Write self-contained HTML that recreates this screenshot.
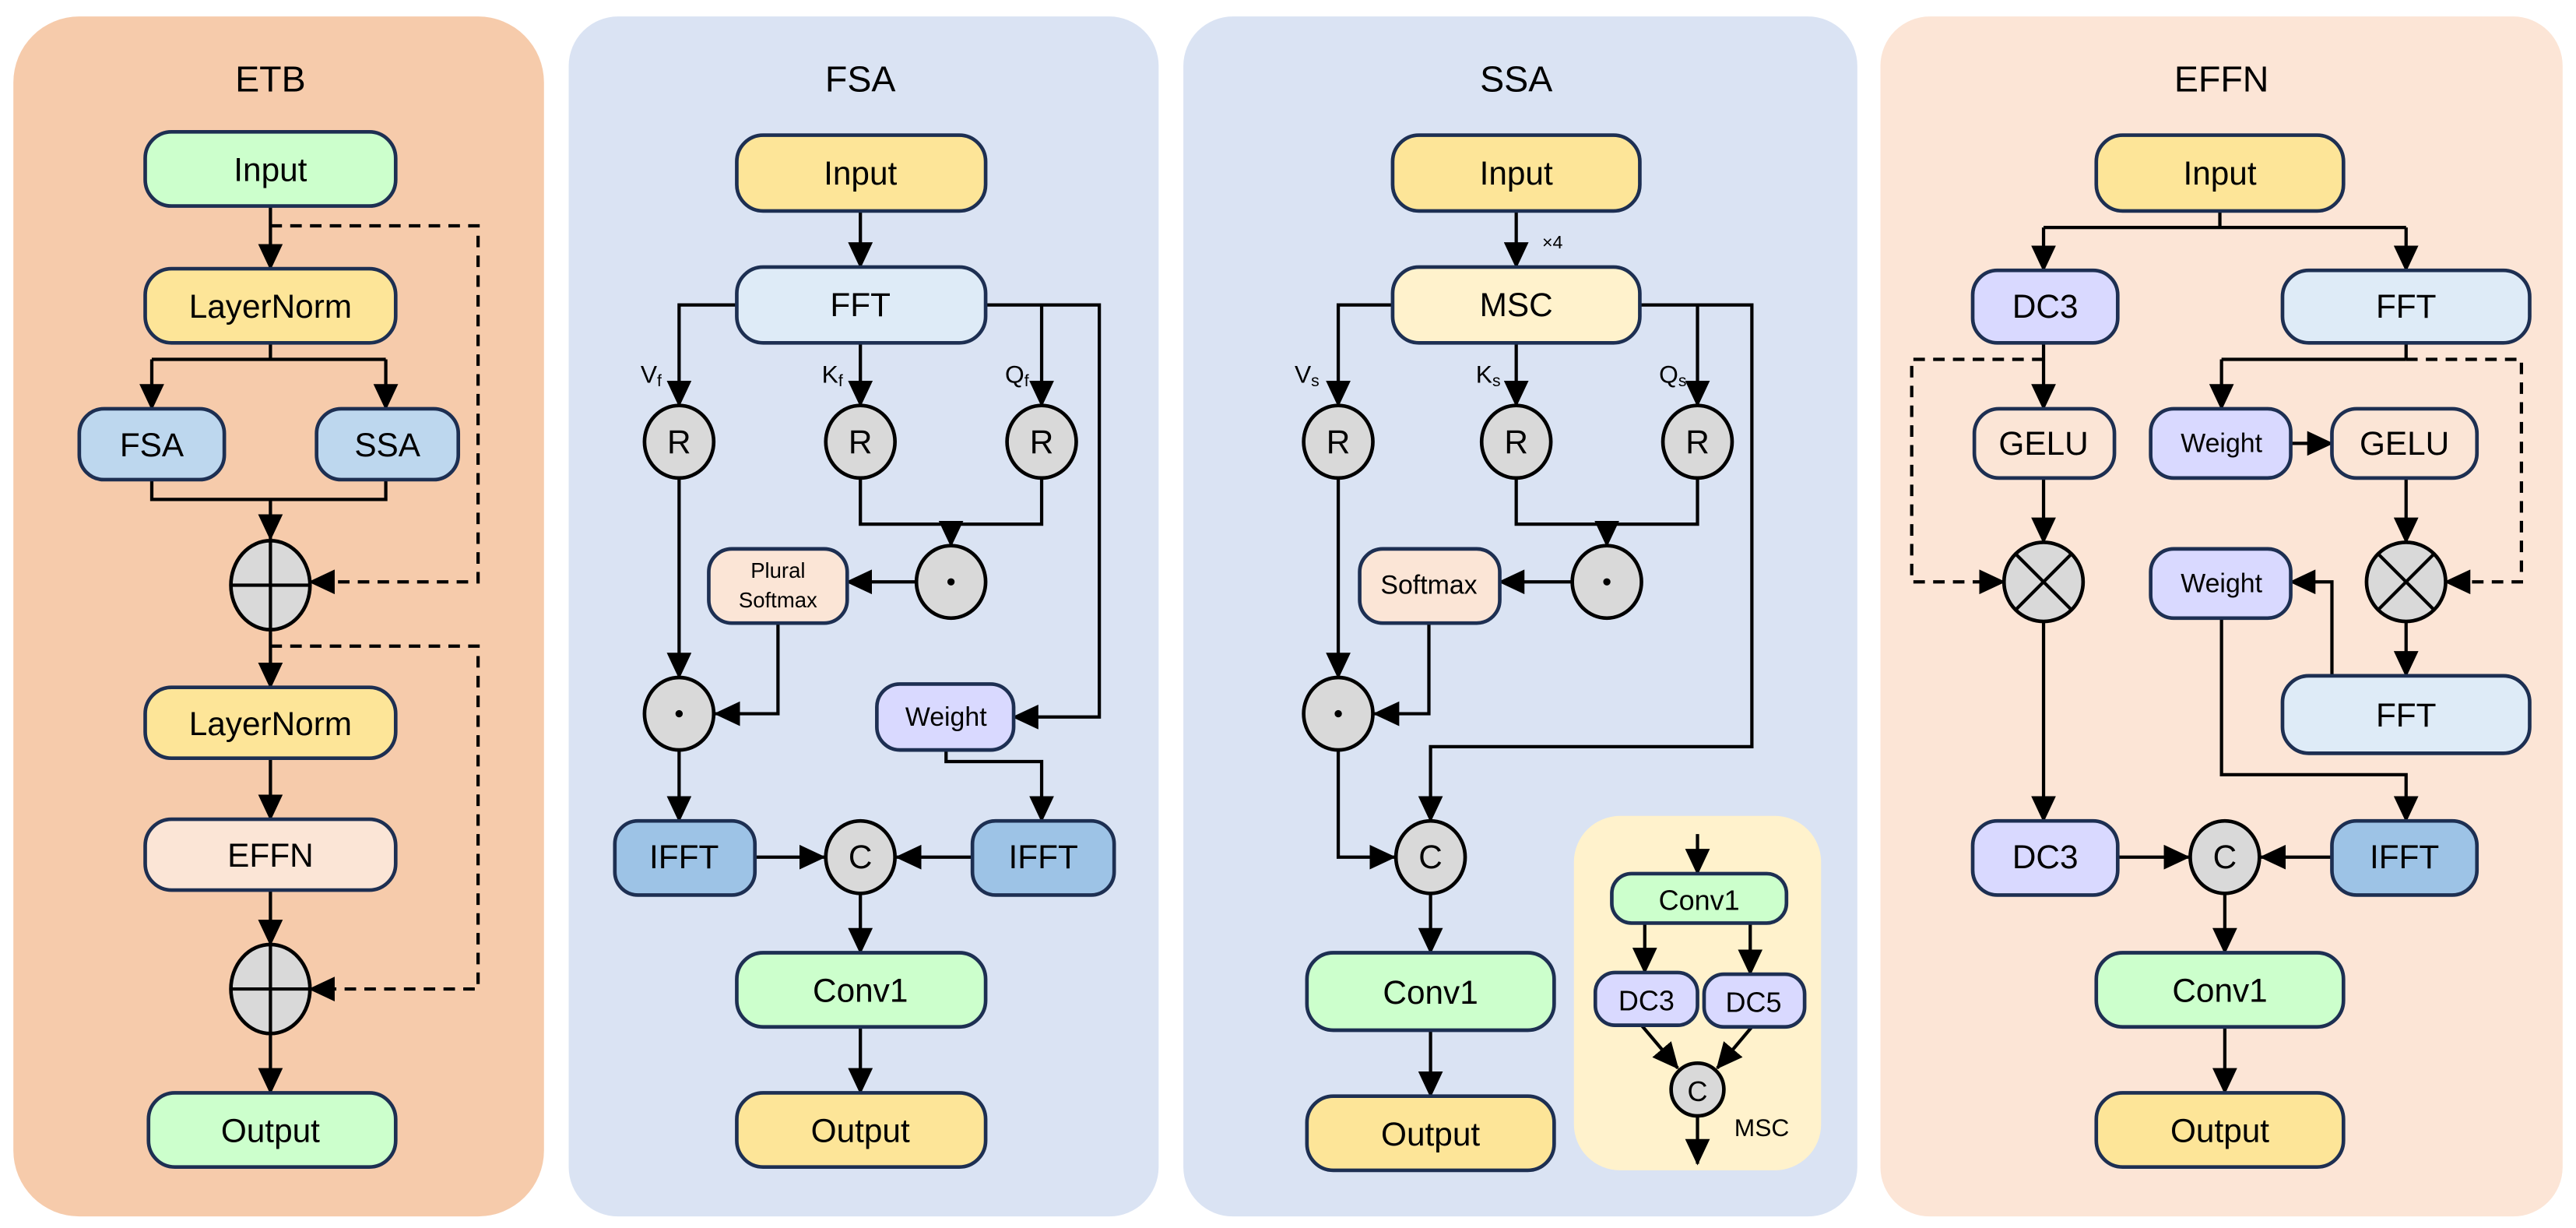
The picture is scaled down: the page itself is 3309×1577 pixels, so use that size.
<!DOCTYPE html>
<html><head><meta charset="utf-8"><style>
html,body{margin:0;padding:0;background:#fff;}
svg{display:block}
text{font-family:"Liberation Sans",sans-serif;fill:#000;text-anchor:middle;dominant-baseline:central}
.n{stroke:#1d2f52;stroke-width:2.2}
.l{stroke:#000;stroke-width:2;fill:none}
.d{stroke:#000;stroke-width:2;fill:none;stroke-dasharray:7,5}
.c{fill:#d9d9d9;stroke:#000;stroke-width:2.2}
.t{font-size:20px}
</style></head><body>
<svg width="3309" height="1577" viewBox="0 0 1563 745" xmlns="http://www.w3.org/2000/svg">
<defs>
<marker id="a" markerUnits="userSpaceOnUse" markerWidth="16" markerHeight="15" refX="15" refY="7.5" orient="auto"><path d="M0,0 L16,7.5 L0,15 z" fill="#000"/></marker>
</defs>
<rect x="8" y="10" width="322" height="728" rx="40" fill="#f6cbab"/>
<rect x="345" y="10" width="358" height="728" rx="30" fill="#dae3f3"/>
<rect x="718" y="10" width="409" height="728" rx="30" fill="#dae3f3"/>
<rect x="1141" y="10" width="414" height="728" rx="30" fill="#fce5d6"/>
<text x="164" y="48" style="font-size:22px">ETB</text>
<text x="522" y="48" style="font-size:22px">FSA</text>
<text x="920" y="48" style="font-size:22px">SSA</text>
<text x="1348" y="48" style="font-size:22px">EFFN</text>

<g>
<path class="l" d="M164,125 V163" marker-end="url(#a)"/>
<path class="d" d="M164,137 H290 V353 H188" marker-end="url(#a)"/>
<path class="l" d="M164,208 V218 M92,218 H234"/>
<path class="l" d="M92,218 V248" marker-end="url(#a)"/>
<path class="l" d="M234,218 V248" marker-end="url(#a)"/>
<path class="l" d="M92,290 V303 H234 V290 M164,303 V327" marker-end="url(#a)"/>
<path class="l" d="M164,382 V417" marker-end="url(#a)"/>
<path class="d" d="M164,392 H290 V600 H188" marker-end="url(#a)"/>
<path class="l" d="M164,460 V497" marker-end="url(#a)"/>
<path class="l" d="M164,540 V573" marker-end="url(#a)"/>
<path class="l" d="M164,627 V663" marker-end="url(#a)"/>
<rect class="n" x="88" y="80" width="152" height="45" rx="16" fill="#ccffcc"/><text class="t" x="164" y="103">Input</text>
<rect class="n" x="88" y="163" width="152" height="45" rx="16" fill="#fde598"/><text class="t" x="164" y="186">LayerNorm</text>
<rect class="n" x="48" y="248" width="88" height="43" rx="15" fill="#bdd7ee"/><text class="t" x="92" y="270">FSA</text>
<rect class="n" x="192" y="248" width="86" height="43" rx="15" fill="#bdd7ee"/><text class="t" x="235" y="270">SSA</text>
<ellipse class="c" cx="164" cy="355" rx="24" ry="27"/><path class="l" d="M140,355 H188 M164,328 V382"/>
<rect class="n" x="88" y="417" width="152" height="43" rx="16" fill="#fde598"/><text class="t" x="164" y="439">LayerNorm</text>
<rect class="n" x="88" y="497" width="152" height="43" rx="16" fill="#fbe5d6"/><text class="t" x="164" y="519">EFFN</text>
<ellipse class="c" cx="164" cy="600" rx="24" ry="27"/><path class="l" d="M140,600 H188 M164,573 V627"/>
<rect class="n" x="90" y="663" width="150" height="45" rx="16" fill="#ccffcc"/><text class="t" x="164" y="686">Output</text>
</g>

<g>
<path class="l" d="M522,128 V162" marker-end="url(#a)"/>
<path class="l" d="M447,185 H412 V246" marker-end="url(#a)"/>
<path class="l" d="M522,208 V246" marker-end="url(#a)"/>
<path class="l" d="M598,185 H632 V246" marker-end="url(#a)"/>
<path class="l" d="M632,185 H667 V435 H615" marker-end="url(#a)"/>
<path class="l" d="M522,290 V318 H632 V290 M577,318 V331" marker-end="url(#a)"/>
<path class="l" d="M555,353 H514" marker-end="url(#a)"/>
<path class="l" d="M472,378 V433 H434" marker-end="url(#a)"/>
<path class="l" d="M412,290 V411" marker-end="url(#a)"/>
<path class="l" d="M412,455 V498" marker-end="url(#a)"/>
<path class="l" d="M574,455 V462 H632 V498" marker-end="url(#a)"/>
<path class="l" d="M458,520 H500" marker-end="url(#a)"/>
<path class="l" d="M590,520 H544" marker-end="url(#a)"/>
<path class="l" d="M522,542 V578" marker-end="url(#a)"/>
<path class="l" d="M522,623 V663" marker-end="url(#a)"/>
<rect class="n" x="447" y="82" width="151" height="46" rx="16" fill="#fde598"/><text class="t" x="522" y="105">Input</text>
<rect class="n" x="447" y="162" width="151" height="46" rx="16" fill="#deebf7"/><text class="t" x="522" y="185">FFT</text>
<text x="395" y="227" style="font-size:15px">V<tspan style="font-size:10px" dy="4">f</tspan></text>
<text x="505" y="227" style="font-size:15px">K<tspan style="font-size:10px" dy="4">f</tspan></text>
<text x="617" y="227" style="font-size:15px">Q<tspan style="font-size:10px" dy="4">f</tspan></text>
<ellipse class="c" cx="412" cy="268" rx="21" ry="22"/><text class="t" x="412" y="268">R</text>
<ellipse class="c" cx="522" cy="268" rx="21" ry="22"/><text class="t" x="522" y="268">R</text>
<ellipse class="c" cx="632" cy="268" rx="21" ry="22"/><text class="t" x="632" y="268">R</text>
<ellipse class="c" cx="577" cy="353" rx="21" ry="22"/><circle cx="577" cy="353" r="2.2"/>
<rect class="n" x="430" y="333" width="84" height="45" rx="14" fill="#fbe5d6"/><text x="472" y="346" style="font-size:13px">Plural</text><text x="472" y="364" style="font-size:13px">Softmax</text>
<ellipse class="c" cx="412" cy="433" rx="21" ry="22"/><circle cx="412" cy="433" r="2.2"/>
<rect class="n" x="532" y="415" width="83" height="40" rx="14" fill="#d9d9ff"/><text x="574" y="435" style="font-size:16px">Weight</text>
<rect class="n" x="373" y="498" width="85" height="45" rx="14" fill="#9dc3e6"/><text class="t" x="415" y="520">IFFT</text>
<rect class="n" x="590" y="498" width="86" height="45" rx="14" fill="#9dc3e6"/><text class="t" x="633" y="520">IFFT</text>
<ellipse class="c" cx="522" cy="520" rx="21" ry="22"/><text class="t" x="522" y="520">C</text>
<rect class="n" x="447" y="578" width="151" height="45" rx="16" fill="#ccffcc"/><text class="t" x="522" y="601">Conv1</text>
<rect class="n" x="447" y="663" width="151" height="45" rx="16" fill="#fde598"/><text class="t" x="522" y="686">Output</text>
</g>

<g>
<path class="l" d="M920,128 V162" marker-end="url(#a)"/>
<text x="942" y="147" style="font-size:11px">×4</text>
<path class="l" d="M845,185 H812 V246" marker-end="url(#a)"/>
<path class="l" d="M920,208 V246" marker-end="url(#a)"/>
<path class="l" d="M995,185 H1030 V246" marker-end="url(#a)"/>
<path class="l" d="M1030,185 H1063 V453 H868 V498" marker-end="url(#a)"/>
<path class="l" d="M920,290 V318 H1030 V290 M975,318 V331" marker-end="url(#a)"/>
<path class="l" d="M953,353 H910" marker-end="url(#a)"/>
<path class="l" d="M867,378 V433 H834" marker-end="url(#a)"/>
<path class="l" d="M812,290 V411" marker-end="url(#a)"/>
<path class="l" d="M812,455 V520 H846" marker-end="url(#a)"/>
<path class="l" d="M868,542 V578" marker-end="url(#a)"/>
<path class="l" d="M868,625 V665" marker-end="url(#a)"/>
<rect class="n" x="845" y="82" width="150" height="46" rx="16" fill="#fde598"/><text class="t" x="920" y="105">Input</text>
<rect class="n" x="845" y="162" width="150" height="46" rx="16" fill="#fff2cc"/><text class="t" x="920" y="185">MSC</text>
<text x="793" y="227" style="font-size:15px">V<tspan style="font-size:10px" dy="4">s</tspan></text>
<text x="903" y="227" style="font-size:15px">K<tspan style="font-size:10px" dy="4">s</tspan></text>
<text x="1015" y="227" style="font-size:15px">Q<tspan style="font-size:10px" dy="4">s</tspan></text>
<ellipse class="c" cx="812" cy="268" rx="21" ry="22"/><text class="t" x="812" y="268">R</text>
<ellipse class="c" cx="920" cy="268" rx="21" ry="22"/><text class="t" x="920" y="268">R</text>
<ellipse class="c" cx="1030" cy="268" rx="21" ry="22"/><text class="t" x="1030" y="268">R</text>
<ellipse class="c" cx="975" cy="353" rx="21" ry="22"/><circle cx="975" cy="353" r="2.2"/>
<rect class="n" x="825" y="333" width="85" height="45" rx="14" fill="#fbe5d6"/><text x="867" y="355" style="font-size:16px">Softmax</text>
<ellipse class="c" cx="812" cy="433" rx="21" ry="22"/><circle cx="812" cy="433" r="2.2"/>
<ellipse class="c" cx="868" cy="520" rx="21" ry="22"/><text class="t" x="868" y="520">C</text>
<rect class="n" x="793" y="578" width="150" height="47" rx="16" fill="#ccffcc"/><text class="t" x="868" y="602">Conv1</text>
<rect class="n" x="793" y="665" width="150" height="45" rx="16" fill="#fde598"/><text class="t" x="868" y="688">Output</text>
<rect x="955" y="495" width="150" height="215" rx="28" fill="#fff2cc"/>
<path class="l" d="M1030,506 V530" marker-end="url(#a)"/>
<path class="l" d="M998,561 V590" marker-end="url(#a)"/>
<path class="l" d="M1062,561 V591" marker-end="url(#a)"/>
<path class="l" d="M996,622 L1018,648" marker-end="url(#a)"/>
<path class="l" d="M1063,623 L1042,648" marker-end="url(#a)"/>
<path class="l" d="M1030,677 V706" marker-end="url(#a)"/>
<rect class="n" x="978" y="530" width="106" height="30" rx="12" fill="#ccffcc"/><text x="1031" y="546" style="font-size:17px">Conv1</text>
<rect class="n" x="968" y="590" width="62" height="32" rx="12" fill="#d9d9ff"/><text x="999" y="607" style="font-size:17px">DC3</text>
<rect class="n" x="1034" y="591" width="61" height="32" rx="12" fill="#d9d9ff"/><text x="1064" y="608" style="font-size:17px">DC5</text>
<circle class="c" cx="1030" cy="661" r="16"/><text x="1030" y="662" style="font-size:17px">C</text>
<text x="1069" y="684" style="font-size:15px">MSC</text>
</g>

<g>
<path class="l" d="M1347,128 V138 M1240,138 H1460"/>
<path class="l" d="M1240,138 V164" marker-end="url(#a)"/>
<path class="l" d="M1460,138 V164" marker-end="url(#a)"/>
<path class="l" d="M1240,208 V248" marker-end="url(#a)"/>
<path class="d" d="M1240,218 H1160 V353 H1216" marker-end="url(#a)"/>
<path class="l" d="M1460,208 V218 M1348,218 H1460"/>
<path class="l" d="M1348,218 V248" marker-end="url(#a)"/>
<path class="d" d="M1460,218 H1530 V353 H1484" marker-end="url(#a)"/>
<path class="l" d="M1390,269 H1415" marker-end="url(#a)"/>
<path class="l" d="M1240,290 V329" marker-end="url(#a)"/>
<path class="l" d="M1460,290 V329" marker-end="url(#a)"/>
<path class="l" d="M1460,377 V410" marker-end="url(#a)"/>
<path class="l" d="M1415,410 V353 H1390" marker-end="url(#a)"/>
<path class="l" d="M1240,377 V498" marker-end="url(#a)"/>
<path class="l" d="M1348,375 V470 H1460 V498" marker-end="url(#a)"/>
<path class="l" d="M1285,520 H1328" marker-end="url(#a)"/>
<path class="l" d="M1415,520 H1372" marker-end="url(#a)"/>
<path class="l" d="M1350,542 V578" marker-end="url(#a)"/>
<path class="l" d="M1350,623 V663" marker-end="url(#a)"/>
<rect class="n" x="1272" y="82" width="150" height="46" rx="16" fill="#fde598"/><text class="t" x="1347" y="105">Input</text>
<rect class="n" x="1197" y="164" width="88" height="44" rx="15" fill="#d9d9ff"/><text class="t" x="1241" y="186">DC3</text>
<rect class="n" x="1385" y="164" width="150" height="44" rx="16" fill="#deebf7"/><text class="t" x="1460" y="186">FFT</text>
<rect class="n" x="1198" y="248" width="85" height="42" rx="15" fill="#fbe5d6"/><text class="t" x="1240" y="269">GELU</text>
<rect class="n" x="1305" y="248" width="85" height="42" rx="14" fill="#d9d9ff"/><text x="1348" y="269" style="font-size:16px">Weight</text>
<rect class="n" x="1415" y="248" width="88" height="42" rx="15" fill="#fbe5d6"/><text class="t" x="1459" y="269">GELU</text>
<ellipse class="c" cx="1240" cy="353" rx="24" ry="24"/><path class="l" d="M1223,336 L1257,370 M1257,336 L1223,370"/>
<ellipse class="c" cx="1460" cy="353" rx="24" ry="24"/><path class="l" d="M1443,336 L1477,370 M1477,336 L1443,370"/>
<rect class="n" x="1305" y="333" width="85" height="42" rx="14" fill="#d9d9ff"/><text x="1348" y="354" style="font-size:16px">Weight</text>
<rect class="n" x="1385" y="410" width="150" height="47" rx="16" fill="#deebf7"/><text class="t" x="1460" y="434">FFT</text>
<rect class="n" x="1197" y="498" width="88" height="45" rx="15" fill="#d9d9ff"/><text class="t" x="1241" y="520">DC3</text>
<rect class="n" x="1415" y="498" width="88" height="45" rx="15" fill="#9dc3e6"/><text class="t" x="1459" y="520">IFFT</text>
<ellipse class="c" cx="1350" cy="520" rx="21" ry="22"/><text class="t" x="1350" y="520">C</text>
<rect class="n" x="1272" y="578" width="150" height="45" rx="16" fill="#ccffcc"/><text class="t" x="1347" y="601">Conv1</text>
<rect class="n" x="1272" y="663" width="150" height="45" rx="16" fill="#fde598"/><text class="t" x="1347" y="686">Output</text>
</g>
</svg>
</body></html>
